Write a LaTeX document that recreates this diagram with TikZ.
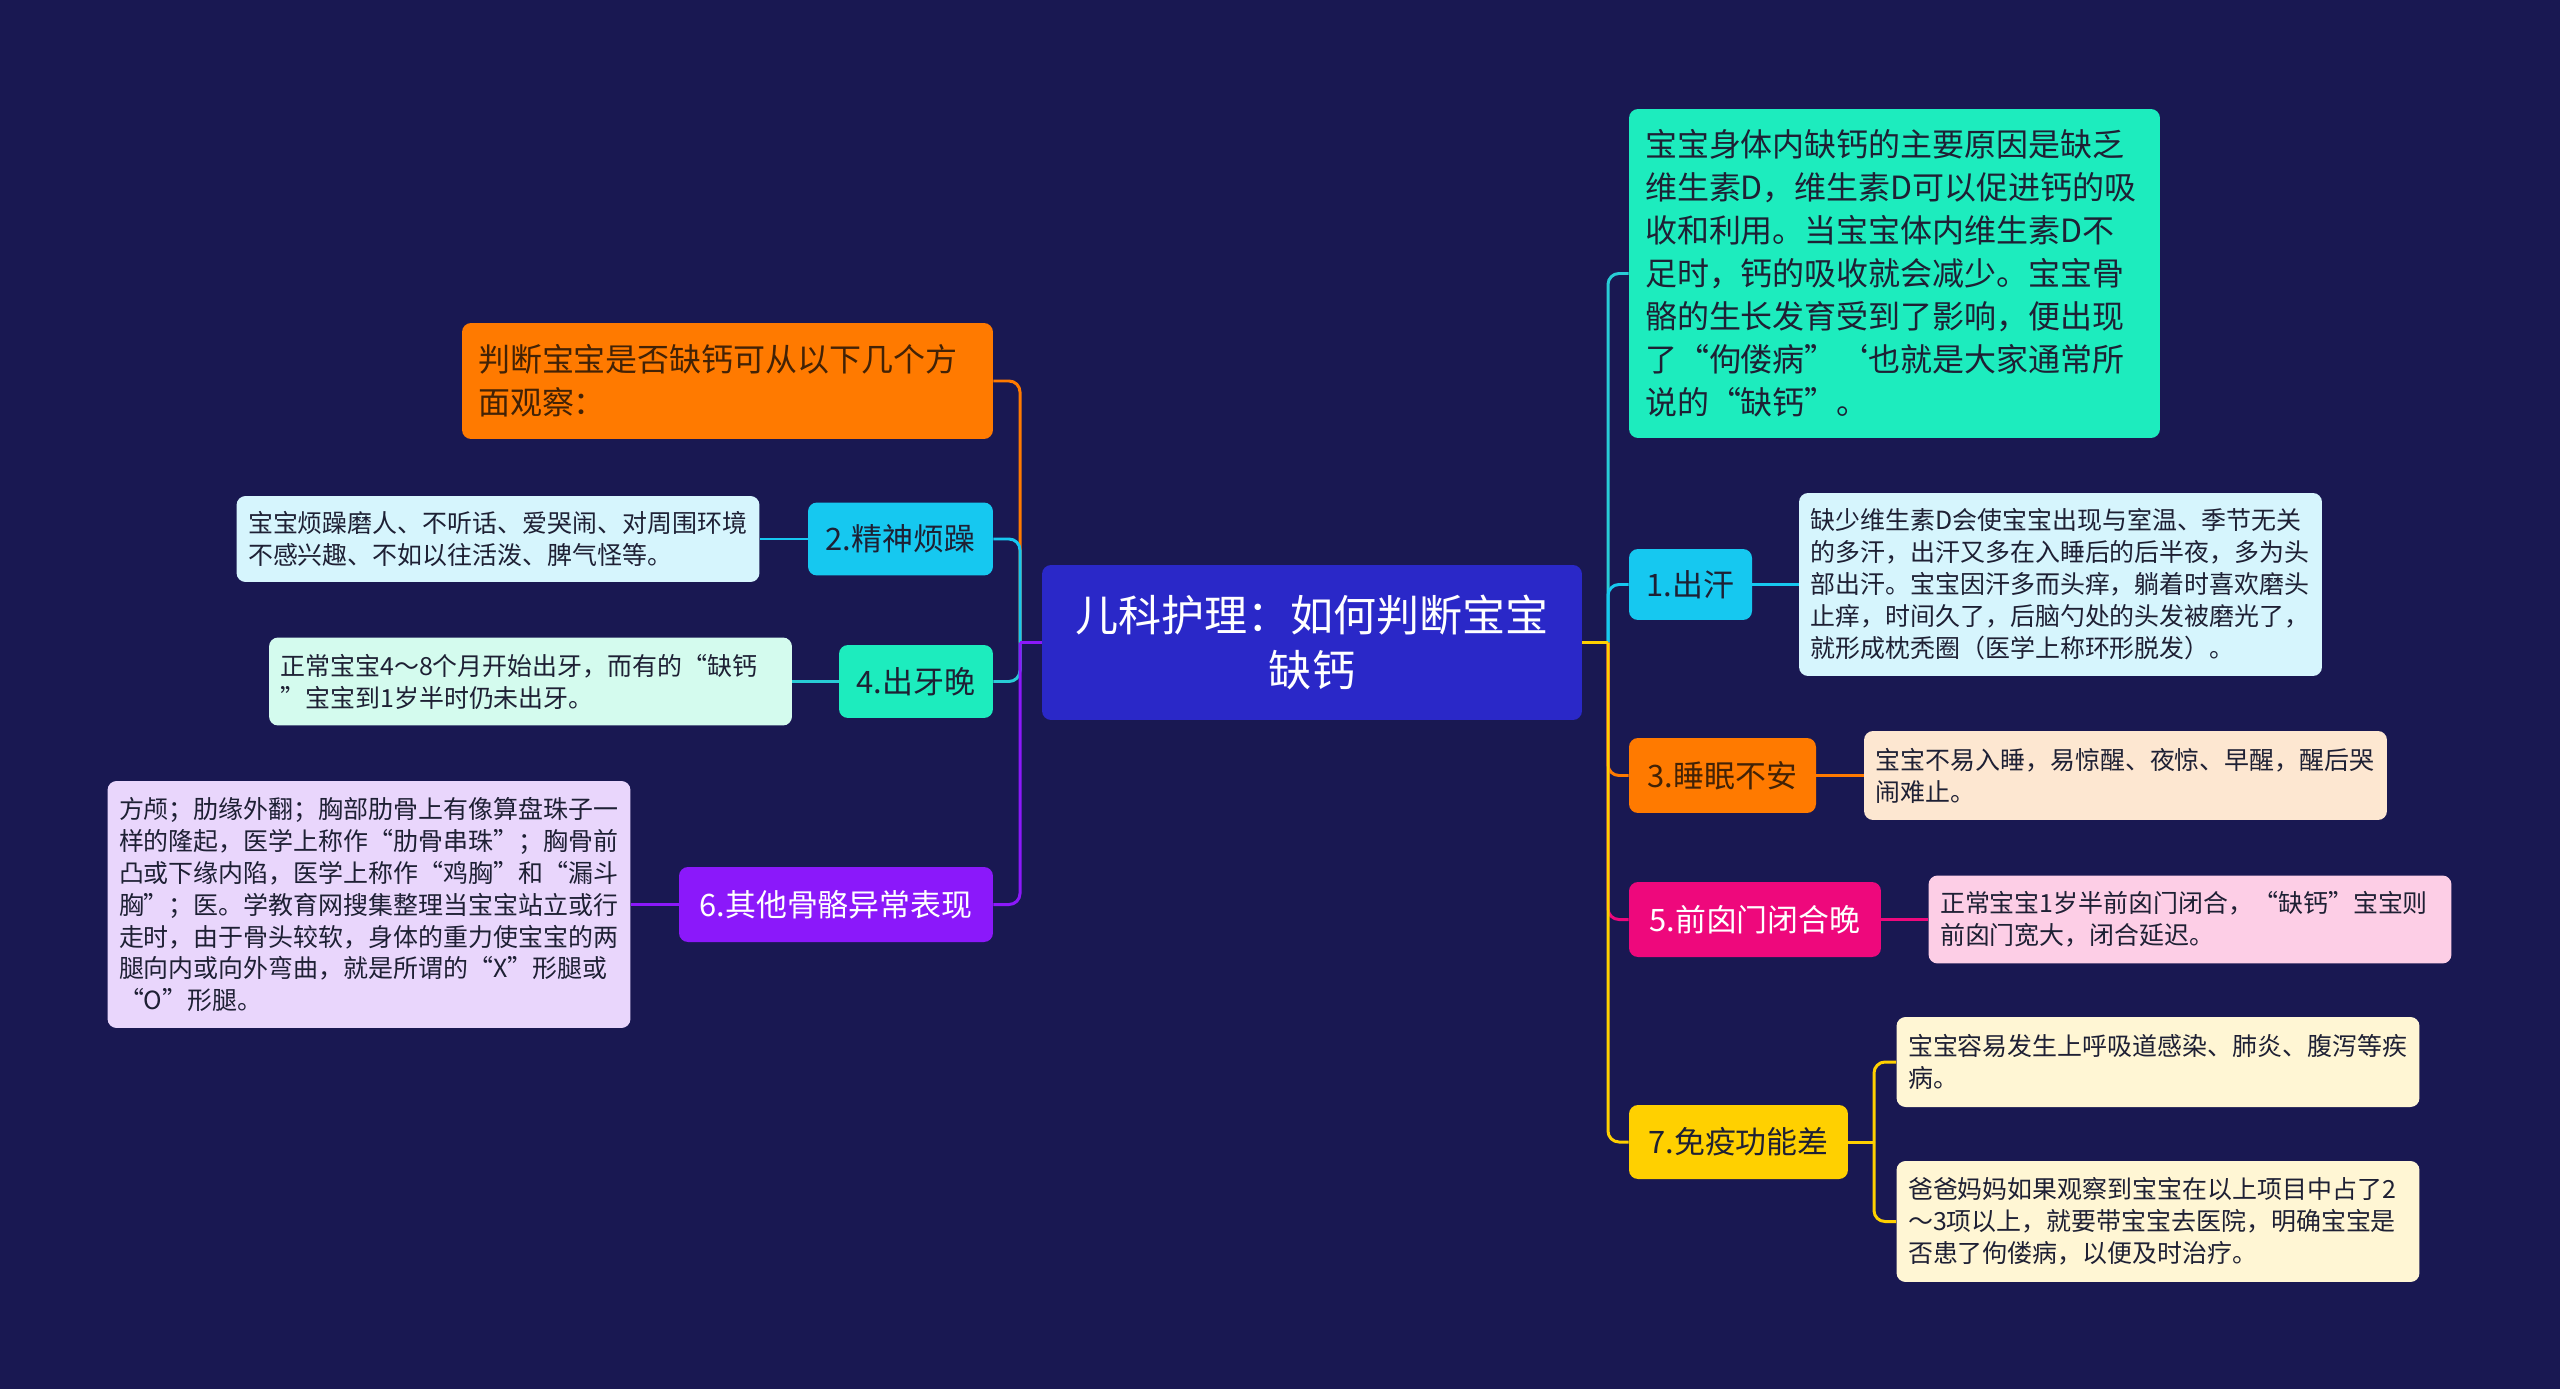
\documentclass[tikz,border=0pt]{standalone}
\usepackage{fontspec}
\setmainfont{Noto Sans CJK SC}
\usepackage{tikz}
\usetikzlibrary{positioning}
\usepackage{xcolor}
\definecolor{bgNavy}{RGB}{25, 24, 82}
\definecolor{rootBlue}{RGB}{42, 40, 200}
\definecolor{brOrange}{RGB}{255, 122, 0}
\definecolor{brCyan}{RGB}{22, 200, 240}
\definecolor{brMint}{RGB}{29, 236, 190}
\definecolor{brPink}{RGB}{238, 8, 124}
\definecolor{brPurple}{RGB}{139, 24, 250}
\definecolor{brYellow}{RGB}{255, 208, 0}
\definecolor{lnTeal}{RGB}{40, 204, 214}
\definecolor{lfCyan}{RGB}{214, 245, 253}
\definecolor{lfMint}{RGB}{212, 251, 238}
\definecolor{lfPeach}{RGB}{253, 231, 209}
\definecolor{lfPink}{RGB}{253, 206, 230}
\definecolor{lfYellow}{RGB}{255, 246, 212}
\definecolor{lfLilac}{RGB}{233, 214, 252}
\definecolor{inkDark}{RGB}{30, 32, 52}
\definecolor{inkBrown}{RGB}{66, 34, 6}

\begin{document}
\begin{tikzpicture}[
  x=0.02cm, y=-0.02cm,
  every node/.style={rounded corners=0.18cm, inner ysep=0pt, align=left, text=inkDark},
  root/.style={fill=rootBlue, text=white, align=center, font=\fontsize{24.5}{31.6}\selectfont,
    minimum width=10.8cm, minimum height=3.1cm},
  topic/.style={font=\fontsize{17.6}{22}\selectfont, align=center, inner xsep=0.28cm, minimum height=1.46cm},
  leaf/.style={font=\fontsize{14.2}{18.2}\selectfont, text width=10cm, inner xsep=0.23cm},
  note/.style={font=\fontsize{18.2}{24.5}\selectfont, text width=9.98cm, inner xsep=0.32cm},
  link/.style={line width=1.7pt, rounded corners=0.22cm}
]
  \fill[bgNavy] (0,0) rectangle (2560,1389);
  \useasboundingbox (0,0) rectangle (2560,1389);

  % --- Root ---
  \node[root] (C) at (1312,642.5) {儿科护理：如何判断宝宝\\缺钙};

  % --- Left side ---
  \node[note, fill=brOrange, text=inkBrown, minimum height=2.32cm] (L0) at (727.5,381)
    {判断宝宝是否缺钙可从以下几个方\\面观察：};
  \node[topic, fill=brCyan, minimum width=3.7cm] (L2) at (900.5,539) {2.精神烦躁};
  \node[leaf, fill=lfCyan, minimum height=1.72cm] (L2x) at (498,539)
    {宝宝烦躁磨人、不听话、爱哭闹、对周围环境\\不感兴趣、不如以往活泼、脾气怪等。};
  \node[topic, fill=brMint, minimum width=3.08cm] (L4) at (916,681.5) {4.出牙晚};
  \node[leaf, fill=lfMint, minimum height=1.76cm] (L4x) at (530.5,681.5)
    {正常宝宝4～8个月开始出牙，而有的“缺钙\\”宝宝到1岁半时仍未出牙。};
  \node[topic, fill=brPurple, text=white, minimum width=6.28cm, minimum height=1.5cm] (L6) at (836,904.5)
    {6.其他骨骼异常表现};
  \node[leaf, fill=lfLilac, minimum height=4.94cm] (L6x) at (369,904.5)
    {方颅；肋缘外翻；胸部肋骨上有像算盘珠子一\\样的隆起，医学上称作“肋骨串珠”；胸骨前\\凸或下缘内陷，医学上称作“鸡胸”和“漏斗\\胸”；医。学教育网搜集整理当宝宝站立或行\\走时，由于骨头较软，身体的重力使宝宝的两\\腿向内或向外弯曲，就是所谓的“X”形腿或\\“O”形腿。};

  % --- Right side ---
  \node[note, fill=brMint, minimum height=6.58cm] (R0) at (1894.5,273.5)
    {宝宝身体内缺钙的主要原因是缺乏\\维生素D，维生素D可以促进钙的吸\\收和利用。当宝宝体内维生素D不\\足时，钙的吸收就会减少。宝宝骨\\骼的生长发育受到了影响，便出现\\了“佝偻病”‘也就是大家通常所\\说的“缺钙”。};
  \node[topic, fill=brCyan, minimum width=2.46cm, minimum height=1.42cm] (R1) at (1690.5,584.5) {1.出汗};
  \node[leaf, fill=lfCyan, minimum height=3.66cm] (R1x) at (2060.5,584.5)
    {缺少维生素D会使宝宝出现与室温、季节无关\\的多汗，出汗又多在入睡后的后半夜，多为头\\部出汗。宝宝因汗多而头痒，躺着时喜欢磨头\\止痒，时间久了，后脑勺处的头发被磨光了，\\就形成枕秃圈（医学上称环形脱发）。};
  \node[topic, fill=brOrange, text=inkBrown, minimum width=3.74cm, minimum height=1.5cm] (R3) at (1722.5,775.5)
    {3.睡眠不安};
  \node[leaf, fill=lfPeach, minimum height=1.78cm] (R3x) at (2125.5,775.5)
    {宝宝不易入睡，易惊醒、夜惊、早醒，醒后哭\\闹难止。};
  \node[topic, fill=brPink, text=white, minimum width=5.04cm, minimum height=1.5cm] (R5) at (1755,919.5)
    {5.前囟门闭合晚};
  \node[leaf, fill=lfPink, minimum height=1.76cm] (R5x) at (2190,919.5)
    {正常宝宝1岁半前囟门闭合，“缺钙”宝宝则\\前囟门宽大，闭合延迟。};
  \node[topic, fill=brYellow, minimum width=4.38cm, minimum height=1.48cm] (R7) at (1738.5,1142)
    {7.免疫功能差};
  \node[leaf, fill=lfYellow, minimum height=1.8cm] (R7a) at (2158,1062)
    {宝宝容易发生上呼吸道感染、肺炎、腹泻等疾\\病。};
  \node[leaf, fill=lfYellow, minimum height=2.42cm] (R7b) at (2158,1221.5)
    {爸爸妈妈如果观察到宝宝在以上项目中占了2\\～3项以上，就要带宝宝去医院，明确宝宝是\\否患了佝偻病，以便及时治疗。};

  % --- Connectors ---
  \coordinate (lsp) at (1020,642.5);
  \coordinate (rsp) at (1608,642.5);
  \coordinate (r7sp) at (1874,1142);

  \draw[link, brOrange] (lsp) |- (L0.east);
  \draw[link, brCyan] (lsp) |- (L2.east);
  \draw[link, lnTeal] (lsp) |- (L4.east);
  \draw[link, brPurple] (lsp) |- (L6.east);
  \draw[link, brPurple] (C.west) -- (lsp);

  \draw[link, lnTeal] (rsp) |- (R0.west);
  \draw[link, brCyan] (rsp) |- (R1.west);
  \draw[link, brOrange] (rsp) |- (R3.west);
  \draw[link, brPink] (rsp) |- (R5.west);
  \draw[link, brYellow] (rsp) |- (R7.west);
  \draw[link, brYellow] (C.east) -- (rsp);

  \draw[link, brCyan] (L2.west) -- (L2x.east);
  \draw[link, lnTeal] (L4.west) -- (L4x.east);
  \draw[link, brPurple] (L6.west) -- (L6x.east);
  \draw[link, brCyan] (R1.east) -- (R1x.west);
  \draw[link, brOrange] (R3.east) -- (R3x.west);
  \draw[link, brPink] (R5.east) -- (R5x.west);
  \draw[link, brYellow] (R7.east) -- (r7sp);
  \draw[link, brYellow] (r7sp) |- (R7a.west);
  \draw[link, brYellow] (r7sp) |- (R7b.west);
\end{tikzpicture}
\end{document}
